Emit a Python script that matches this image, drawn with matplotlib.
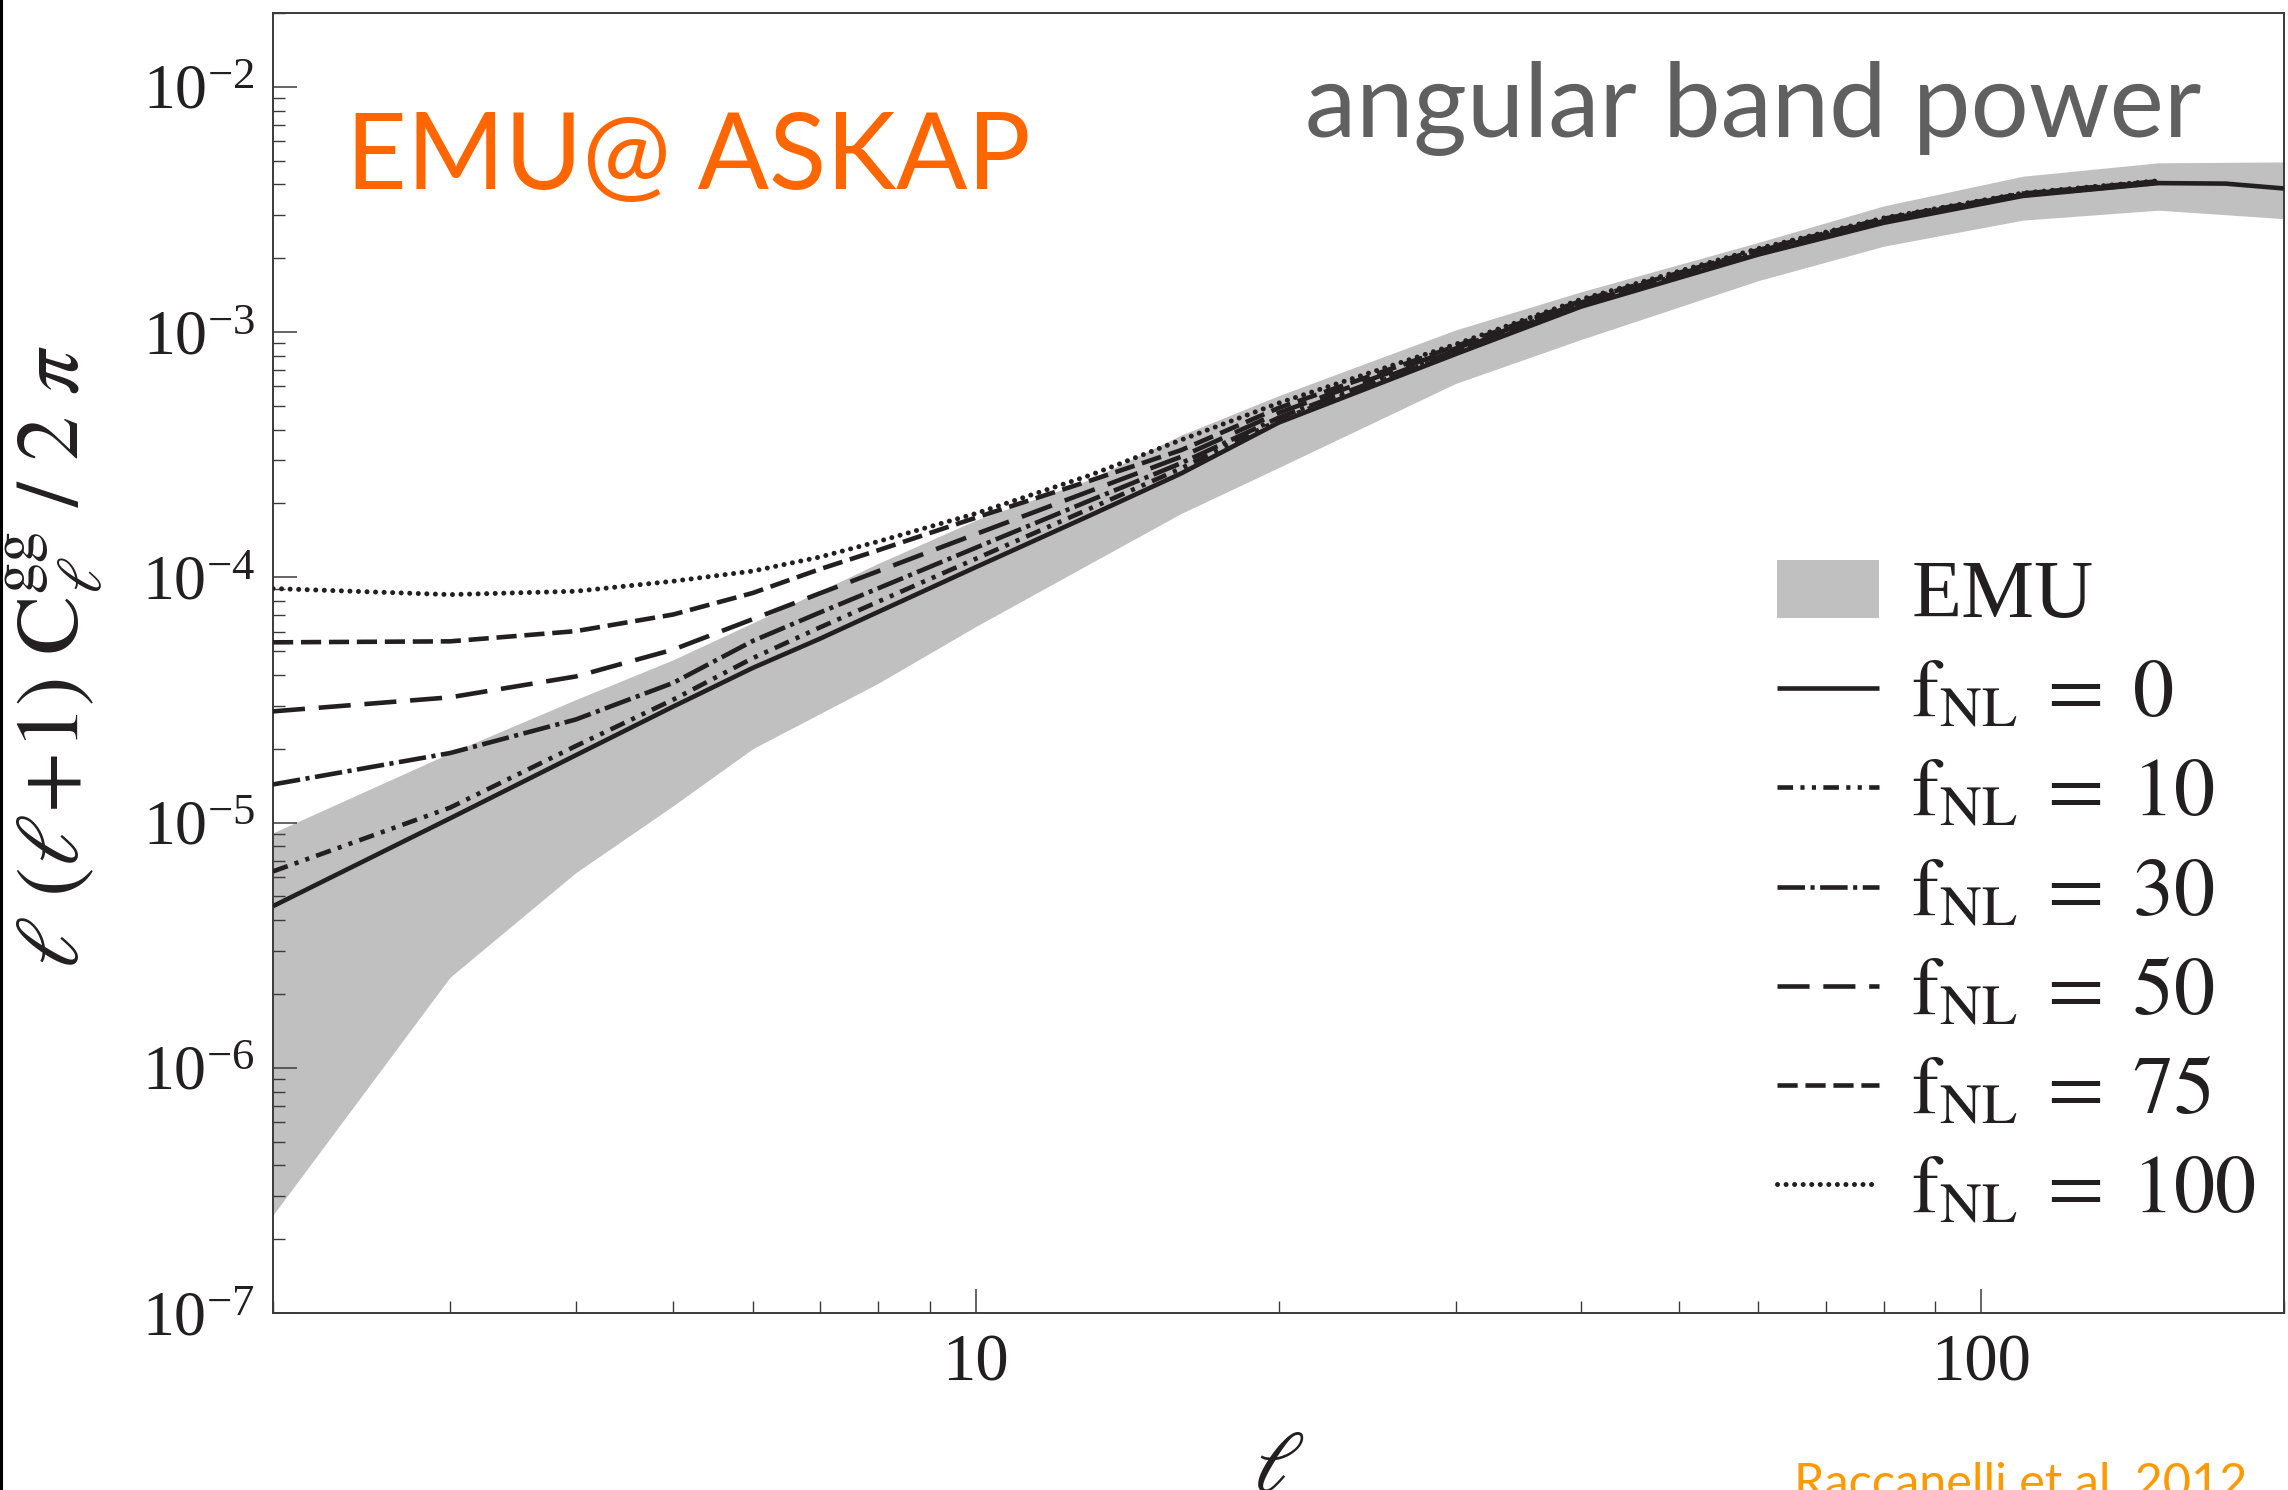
import matplotlib
matplotlib.use('Agg')
import matplotlib.pyplot as plt
import matplotlib.ticker as mticker
from matplotlib.patches import Patch
from matplotlib.lines import Line2D
import numpy as np

# ---------------- data ----------------
ell = [2, 3, 4, 5, 6, 7, 8, 10, 13, 16, 20, 30, 40, 60, 80, 110, 150, 175, 200]
ell_fnl = [2, 3, 4, 5, 6, 7, 8, 10, 13, 16, 20, 30, 40, 60, 80, 110, 150]

fnl0 = [4.56e-6, 1.04e-5, 1.88e-5, 2.97e-5, 4.27e-5, 5.62e-5, 7.23e-5, 1.10e-4,
        1.79e-4, 2.65e-4, 4.27e-4, 8.13e-4, 1.27e-3, 2.07e-3, 2.79e-3, 3.59e-3,
        4.05e-3, 4.03e-3, 3.85e-3]
fnl10 = [6.32e-6, 1.15e-5, 2.05e-5, 3.17e-5, 4.68e-5, 6.25e-5, 7.96e-5, 1.19e-4,
         1.91e-4, 2.78e-4, 4.37e-4, 8.26e-4, 1.29e-3, 2.09e-3, 2.82e-3, 3.61e-3, 4.06e-3]
fnl30 = [1.43e-5, 1.92e-5, 2.63e-5, 3.71e-5, 5.50e-5, 7.19e-5, 9.02e-5, 1.32e-4,
         2.06e-4, 2.92e-4, 4.47e-4, 8.41e-4, 1.31e-3, 2.12e-3, 2.84e-3, 3.63e-3, 4.08e-3]
fnl50 = [2.84e-5, 3.24e-5, 3.94e-5, 5.07e-5, 6.75e-5, 8.61e-5, 1.06e-4, 1.50e-4,
         2.25e-4, 3.10e-4, 4.68e-4, 8.57e-4, 1.32e-3, 2.14e-3, 2.87e-3, 3.65e-3, 4.10e-3]
fnl75 = [5.43e-5, 5.48e-5, 6.03e-5, 7.05e-5, 8.63e-5, 1.08e-4, 1.29e-4, 1.75e-4,
         2.48e-4, 3.30e-4, 4.90e-4, 8.75e-4, 1.34e-3, 2.16e-3, 2.90e-3, 3.67e-3, 4.12e-3]
fnl100 = [9.00e-5, 8.50e-5, 8.77e-5, 9.64e-5, 1.06e-4, 1.21e-4, 1.40e-4, 1.82e-4,
          2.61e-4, 3.63e-4, 5.13e-4, 8.91e-4, 1.36e-3, 2.19e-3, 2.92e-3, 3.69e-3, 4.14e-3]

ell_band = [2, 3, 4, 5, 6, 8, 10, 13, 16, 20, 30, 40, 60, 80, 110, 150, 200]
emu_low = [2.51e-7, 2.34e-6, 6.24e-6, 1.17e-5, 2.00e-5, 3.70e-5, 6.30e-5, 1.14e-4,
           1.82e-4, 2.80e-4, 6.17e-4, 9.33e-4, 1.62e-3, 2.24e-3, 2.86e-3, 3.14e-3, 2.90e-3]
emu_high = [9.08e-6, 1.92e-5, 3.17e-5, 4.61e-5, 6.52e-5, 1.14e-4, 1.71e-4, 2.51e-4,
            3.80e-4, 5.50e-4, 1.02e-3, 1.46e-3, 2.32e-3, 3.27e-3, 4.32e-3, 4.90e-3, 4.94e-3]

labels = ['EMU', r'$\mathrm{f}_{\mathrm{NL}}\;=\;0$', r'$\mathrm{f}_{\mathrm{NL}}\;=\;10$',
          r'$\mathrm{f}_{\mathrm{NL}}\;=\;30$', r'$\mathrm{f}_{\mathrm{NL}}\;=\;50$',
          r'$\mathrm{f}_{\mathrm{NL}}\;=\;75$', r'$\mathrm{f}_{\mathrm{NL}}\;=\;100$']
x_ticks = [10, 100]
x_ticklabels = ['10', '100']

# ---------------- style ----------------
plt.rcParams['mathtext.fontset'] = 'stix'
plt.rcParams['font.family'] = 'serif'
plt.rcParams['font.serif'] = ['Liberation Serif', 'DejaVu Serif']

INK = '#231f20'
BAND = '#c0c0c0'
LW = 3.3

fig = plt.figure(figsize=(22.88, 14.9), dpi=100)
ax = fig.add_axes([273 / 2288, 1 - 1313 / 1490, 2011 / 2288, 1300 / 1490])

ax.fill_between(ell_band, emu_low, emu_high, color=BAND, lw=0, zorder=1)

series = [
    (ell, fnl0, '-', 'butt', LW),
    (ell_fnl, fnl10, (0, (3.4, 1.6, 0.9, 1.6, 0.9, 1.6)), 'butt', LW),
    (ell_fnl, fnl30, (0, (6.0, 1.2, 0.9, 1.2)), 'butt', LW),
    (ell_fnl, fnl50, (0, (7.0, 3.0)), 'butt', LW),
    (ell_fnl, fnl75, (0, (4.4, 1.7)), 'butt', LW),
    (ell_fnl, fnl100, (0, (0.01, 1.7)), 'round', LW + 0.3),
]
line_handles = []
for (xs, ys, ls, cap, lw), lab in zip(series, labels[1:]):
    h, = ax.plot(xs, ys, color=INK, lw=lw, linestyle=ls, dash_capstyle=cap,
                 solid_capstyle='butt', zorder=3, label=lab)
    line_handles.append(h)

ax.set_xscale('log')
ax.set_yscale('log')
ax.set_xlim(2, 200)
ax.set_ylim(1e-7, 2e-2)

ax.xaxis.set_major_locator(mticker.FixedLocator(x_ticks))
ax.xaxis.set_major_formatter(mticker.FixedFormatter(x_ticklabels))
ax.xaxis.set_minor_locator(mticker.LogLocator(base=10, subs=np.arange(2, 10), numticks=20))
ax.xaxis.set_minor_formatter(mticker.NullFormatter())
ax.yaxis.set_major_locator(mticker.LogLocator(base=10, numticks=20))
ax.yaxis.set_minor_locator(mticker.LogLocator(base=10, subs=np.arange(2, 10), numticks=20))
ax.yaxis.set_minor_formatter(mticker.NullFormatter())

ax.tick_params(which='both', direction='in', top=False, right=False,
               color='#3a3a3a', labelcolor=INK)
ax.tick_params(axis='y', labelsize=46)
ax.tick_params(axis='x', labelsize=48)
ax.tick_params(which='major', length=17, width=1.1)
ax.tick_params(which='minor', length=8.3, width=1.0)
ax.tick_params(axis='y', which='major', pad=13)
ax.tick_params(axis='x', which='major', pad=15)
for s in ax.spines.values():
    s.set_color('#3a3a3a')
    s.set_linewidth(1.4)

ax.set_ylabel(r'$\ell\ (\ell\!+\!1)\ \mathrm{C}_{\ell}^{\mathrm{gg}}\ /\ 2\ \pi$',
              fontsize=64, color=INK)
ax.yaxis.set_label_coords(-0.0835, 0.505)
ax.set_xlabel(r'$\ell$', fontsize=62, color=INK)
ax.xaxis.set_label_coords(0.5, -0.09)

handles = [Patch(facecolor=BAND, edgecolor='none', label=labels[0])] + line_handles
ax.legend(handles=handles, loc='upper left',
          bbox_to_anchor=(1777 / 2288, 1 - 560 / 1490), bbox_transform=fig.transFigure,
          frameon=False, fontsize=59, handlelength=1.24, handletextpad=0.40,
          labelspacing=0.29, borderpad=0, borderaxespad=0, labelcolor=INK)

fig.text(346 / 2288, 1 - 189 / 1490, 'EMU@ ASKAP', color='#ff6600', fontsize=76,
         family='Lato', va='baseline', ha='left')
fig.text(1305 / 2288, 1 - 137 / 1490, 'angular band power', color='#606060', fontsize=74,
         family='Lato', va='baseline', ha='left')
fig.text(1794 / 2288, 1 - 1498 / 1490, 'Raccanelli et al. 2012', color='#ff9900',
         fontsize=35, family='Lato', va='baseline', ha='left')

fig.add_artist(Line2D([0.0006, 0.0006], [0, 1], transform=fig.transFigure,
                      color='black', lw=2.2))

fig.savefig('out.png', dpi=100)
